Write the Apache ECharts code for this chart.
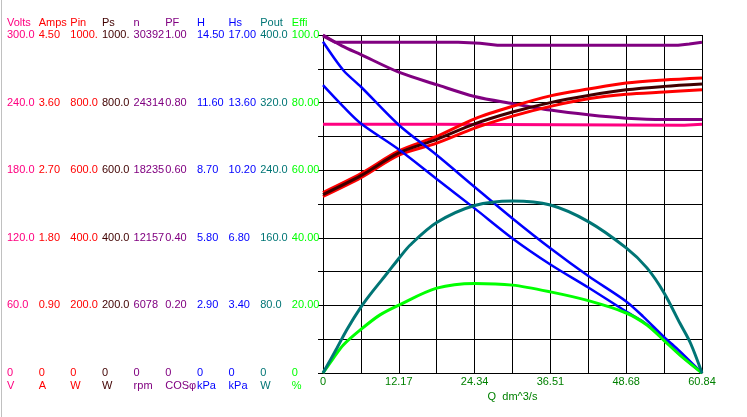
<!DOCTYPE html>
<html>
<head>
<meta charset="utf-8">
<script src="https://cdn.jsdelivr.net/npm/echarts@6/dist/echarts.min.js"></script>
<style>
  html, body { margin: 0; padding: 0; background: #fff; }
  #chart { width: 747px; height: 417px; }
</style>
</head>
<body>
<div id="chart"></div>
<script>
// Q axis (dm^3/s)
const xTicks = ['0', '12.17', '24.34', '36.51', '48.68', '60.84']
const qGrid = [0, 6.084, 12.17, 18.25, 24.34, 30.42, 36.50, 42.59, 48.67, 54.76, 60.84]

// curves read at the grid lines
const pin = [534, 590, 657, 700, 752, 789, 820, 840, 858, 867, 873]
const ps = [528, 584, 651, 691, 737, 772, 800, 821, 838, 848, 855]
const amps = [2.35, 2.60, 2.90, 3.06, 3.26, 3.42, 3.55, 3.65, 3.71, 3.74, 3.77]

const qH = [0, 3.26, 6.084, 12.17, 18.25, 24.34, 30.42, 36.50, 42.59, 48.67, 51.4, 54.76, 56.8, 60.84]
const head = [14.21, 12.99, 12.28, 10.64, 9.35, 7.98, 6.63, 5.35, 4.16, 3.07, 2.42, 1.54, 1.06, 0]
const headS = [14.48, 13.40, 12.55, 11.24, 9.76, 8.28, 6.77, 5.46, 4.30, 3.09, 2.58, 1.76, 1.07, 0]

const qPf = [0, 3.04, 6.084, 12.17, 18.25, 24.34, 30.42, 36.50, 42.59, 48.67, 54.76, 60.84]
const pf = [1.0, 0.968, 0.942, 0.890, 0.853, 0.818, 0.797, 0.778, 0.764, 0.754, 0.750, 0.750]

const qN = [0, 1.9, 21.7, 25.2, 28.0, 57.0, 58.8, 60.84]
const speed = [30300, 29736, 29736, 29647, 29474, 29474, 29583, 29736]

const qV = [0, 17.9, 18.0, 58.0, 58.1, 60.84]
const volts = [220.7, 220.7, 219.9, 219.9, 220.8, 220.8]

const qPout = [0, 2.2, 3.8, 6.084, 7.9, 10.3, 12.17, 14.0, 18.25, 24.34, 30.42, 36.50, 42.59, 48.67, 52.0, 54.76, 57.3, 59.0, 60.84]
const pout = [0, 29, 51, 78, 96, 118, 135.5, 151.5, 178, 198.2, 203.6, 198.8, 179.2, 148, 124.4, 94.8, 58.8, 35.2, 0]

const qEffi = [0, 1.65, 3.26, 6.084, 9.15, 12.17, 18.25, 24.34, 30.42, 36.50, 42.59, 48.67, 52.0, 54.76, 57.3, 60.84]
const effi = [0, 4.35, 8.3, 12.9, 17.2, 20.1, 25.1, 26.5, 26.0, 24.0, 21.4, 17.75, 14.2, 9.6, 5.3, 0]

// left scale columns
const scaleNames = ['Volts', 'Amps', 'Pin', 'Ps', 'n', 'PF', 'H', 'Hs', 'Pout', 'Effi']
const scaleUnits = ['V', 'A', 'W', 'W', 'rpm', 'COSφ', 'kPa', 'kPa', 'W', '%']
const scaleMax = [300, 4.5, 1000, 1000, 30392, 1, 14.5, 17, 400, 100]
const scaleTicks = [
  ['0', '60.0', '120.0', '180.0', '240.0', '300.0'],
  ['0', '0.90', '1.80', '2.70', '3.60', '4.50'],
  ['0', '200.0', '400.0', '600.0', '800.0', '1000.'],
  ['0', '200.0', '400.0', '600.0', '800.0', '1000.'],
  ['0', '6078', '12157', '18235', '24314', '30392'],
  ['0', '0.20', '0.40', '0.60', '0.80', '1.00'],
  ['0', '2.90', '5.80', '8.70', '11.60', '14.50'],
  ['0', '3.40', '6.80', '10.20', '13.60', '17.00'],
  ['0', '80.0', '160.0', '240.0', '320.0', '400.0'],
  ['0', '20.00', '40.00', '60.00', '80.00', '100.0']
]
const scaleColors = ['#ff0080', '#ff0000', '#ff0000', '#400000', '#800080', '#800080', '#0000ff', '#0000ff', '#007575', '#00ff00']

const FONT = 'Liberation Sans'
const GRID_LEFT = 323
const zip = (xs, ys) => xs.map((x, i) => [x, ys[i]])

const chart = echarts.init(document.getElementById('chart'))

// hidden axis 0 only draws the 10x10 grid
const yAxes = [{
  type: 'value',
  min: 0,
  max: 100,
  interval: 10,
  axisLine: { show: true, lineStyle: { color: '#000', width: 1 } },
  axisTick: { show: true, length: 5, lineStyle: { color: '#000' } },
  axisLabel: { show: false },
  splitLine: { show: true, lineStyle: { color: '#000', width: 1 } }
}]
scaleNames.forEach((name, i) => {
  const colX = 7 + i * 31.65
  const step = scaleMax[i] / 5
  yAxes.push({
    type: 'value',
    position: 'left',
    offset: GRID_LEFT - colX,
    min: 0,
    max: scaleMax[i],
    interval: step,
    name: name,
    nameLocation: 'end',
    nameGap: 7,
    nameMoveOverlap: false,
    nameTextStyle: { color: scaleColors[i], fontSize: 11, fontFamily: FONT, align: 'left', verticalAlign: 'bottom' },
    axisLine: { show: false },
    axisTick: { show: false },
    splitLine: { show: false },
    axisLabel: {
      color: scaleColors[i],
      fontSize: 11,
      fontFamily: FONT,
      lineHeight: 13,
      align: 'left',
      margin: 0,
      hideOverlap: false,
      formatter: (v) => {
        const k = Math.round(v / step)
        return k === 0 ? '\n0\n' + scaleUnits[i] : scaleTicks[i][k]
      }
    }
  })
})

const line = (name, data, yIdx, color, width, smooth) => ({
  name: name,
  type: 'line',
  yAxisIndex: yIdx,
  data: data,
  showSymbol: false,
  symbol: 'none',
  smooth: smooth,
  clip: false,
  animation: false,
  lineStyle: { color: color, width: width }
})

chart.setOption({
  backgroundColor: '#fff',
  animation: false,
  grid: { left: GRID_LEFT, right: 45, top: 35, bottom: 44, outerBoundsMode: 'none', containLabel: false },
  xAxis: {
    type: 'value',
    min: 0,
    max: 60.84,
    interval: 6.084,
    name: 'Q  dm^3/s',
    nameLocation: 'middle',
    nameGap: 16,
    nameTextStyle: { color: '#008000', fontSize: 11, fontFamily: FONT },
    axisLine: { show: true, lineStyle: { color: '#000', width: 1 } },
    axisTick: { show: false },
    splitLine: { show: true, lineStyle: { color: '#000', width: 1 } },
    axisLabel: {
      color: '#008000',
      fontSize: 11,
      fontFamily: FONT,
      margin: 3,
      hideOverlap: false,
      formatter: (v) => {
        const k = Math.round(v / 6.084)
        return k % 2 === 0 ? xTicks[k / 2] : ''
      }
    }
  },
  yAxis: yAxes,
  graphic: [{
    type: 'line',
    shape: { x1: 1.5, y1: 0, x2: 1.5, y2: 417 },
    style: { stroke: '#c0c0c0', lineWidth: 1 }
  }],
  series: [
    line('n', zip(qN, speed), 5, '#800080', 3, false),
    line('PF', zip(qPf, pf), 6, '#800080', 3, 0.3),
    line('Volts', zip(qV, volts), 1, '#ff0080', 3, false),
    line('Amps', zip(qGrid, amps), 2, '#ff0000', 3, 0.3),
    line('Pin', zip(qGrid, pin), 3, '#ff0000', 3, 0.3),
    line('Ps', zip(qGrid, ps), 4, '#400000', 3, 0.3),
    line('H', zip(qH, head), 7, '#0000ff', 2.5, 0.3),
    line('Hs', zip(qH, headS), 8, '#0000ff', 2.5, 0.3),
    line('Effi', zip(qEffi, effi), 10, '#00ff00', 3, 0.3),
    line('Pout', zip(qPout, pout), 9, '#007575', 3, 0.3)
  ]
})
</script>
</body>
</html>
